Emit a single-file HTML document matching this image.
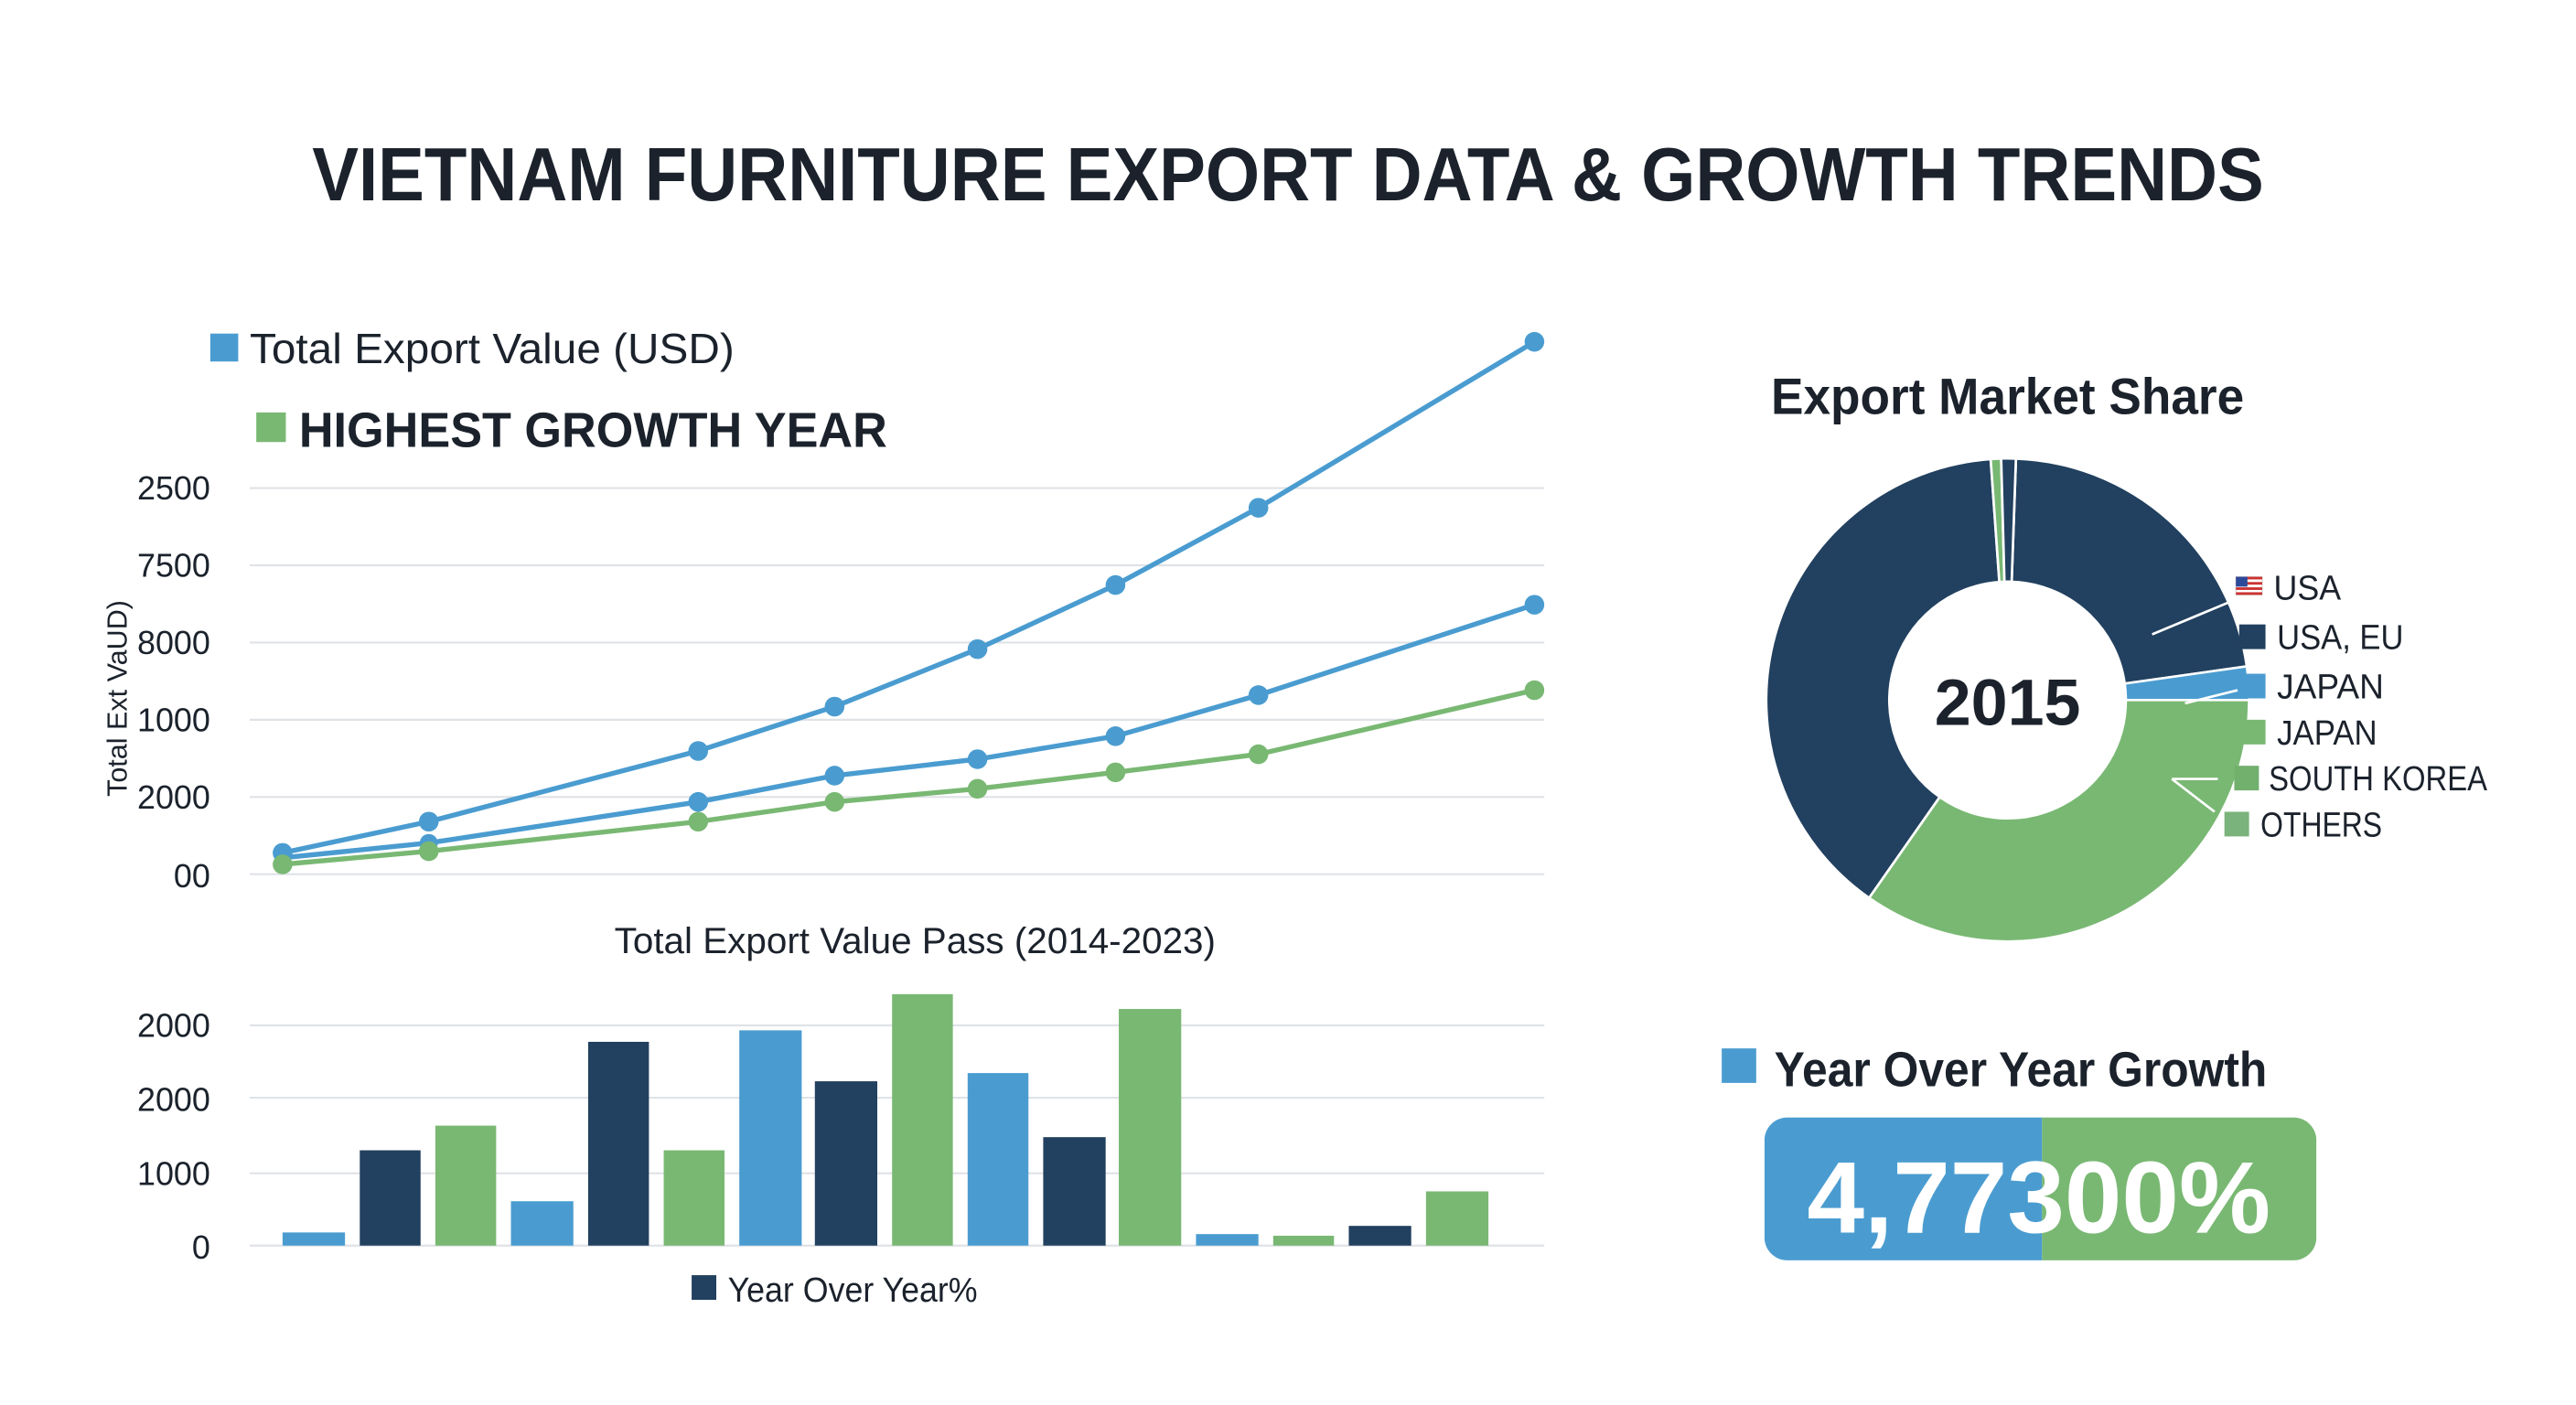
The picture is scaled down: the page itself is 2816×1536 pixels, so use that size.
<!DOCTYPE html>
<html><head><meta charset="utf-8"><style>
html,body{margin:0;padding:0;background:#fff;}
svg{display:block;}
text{font-family:"Liberation Sans",sans-serif;}
</style></head><body>
<svg width="2816" height="1536" viewBox="0 0 1568 855" preserveAspectRatio="none" xmlns="http://www.w3.org/2000/svg">
<rect width="1568" height="855" fill="#fff"/>
<text x="190" y="122" font-size="46" font-weight="bold" fill="#1b222c" textLength="1188" lengthAdjust="spacingAndGlyphs">VIETNAM FURNITURE EXPORT DATA &amp; GROWTH TRENDS</text>

<rect x="128" y="203" width="17" height="17" fill="#4a9cd0"/>
<text x="152" y="221" font-size="26" fill="#1b222c" textLength="295" lengthAdjust="spacingAndGlyphs">Total Export Value (USD)</text>
<rect x="156" y="251" width="18" height="18" fill="#79b873"/>
<text x="182" y="272" font-size="30" font-weight="bold" fill="#1b222c" textLength="358" lengthAdjust="spacingAndGlyphs">HIGHEST GROWTH YEAR</text>

<g stroke="#dfe2e6" stroke-width="1.2">
<line x1="152" y1="297" x2="940" y2="297"/><line x1="152" y1="344" x2="940" y2="344"/>
<line x1="152" y1="391" x2="940" y2="391"/><line x1="152" y1="438" x2="940" y2="438"/>
<line x1="152" y1="485" x2="940" y2="485"/><line x1="152" y1="532" x2="940" y2="532"/>
</g>
<g font-size="20" fill="#1b222c" text-anchor="end">
<text x="128" y="304">2500</text><text x="128" y="351">7500</text><text x="128" y="398">8000</text>
<text x="128" y="445">1000</text><text x="128" y="492">2000</text><text x="128" y="540">00</text>
</g>
<text transform="translate(77,425) rotate(-90)" font-size="17" fill="#1b222c" text-anchor="middle">Total Ext VaUD)</text>

<g fill="none" stroke-width="3" stroke-linejoin="round">
<polyline stroke="#4a9cd0" points="172,519 261,500 425,457 508,430 595,395 679,356 766,309 934,208"/>
<polyline stroke="#4a9cd0" points="172,522 261,513 425,488 508,472 595,462 679,448 766,423 934,368"/>
<polyline stroke="#79b873" points="172,526 261,518 425,500 508,488 595,480 679,470 766,459 934,420"/>
</g>
<g fill="#4a9cd0">
<circle cx="172" cy="519" r="6"/><circle cx="261" cy="500" r="6"/><circle cx="425" cy="457" r="6"/><circle cx="508" cy="430" r="6"/><circle cx="595" cy="395" r="6"/><circle cx="679" cy="356" r="6"/><circle cx="766" cy="309" r="6"/><circle cx="934" cy="208" r="6"/>
<circle cx="261" cy="513" r="5.5"/><circle cx="425" cy="488" r="6"/><circle cx="508" cy="472" r="6"/><circle cx="595" cy="462" r="6"/><circle cx="679" cy="448" r="6"/><circle cx="766" cy="423" r="6"/><circle cx="934" cy="368" r="6"/>
</g>
<g fill="#79b873">
<circle cx="172" cy="526" r="6"/><circle cx="261" cy="518" r="6"/><circle cx="425" cy="500" r="6"/><circle cx="508" cy="488" r="6"/><circle cx="595" cy="480" r="6"/><circle cx="679" cy="470" r="6"/><circle cx="766" cy="459" r="6"/><circle cx="934" cy="420" r="6"/>
</g>

<text x="557" y="580" font-size="22" fill="#1b222c" text-anchor="middle" textLength="366" lengthAdjust="spacingAndGlyphs">Total Export Value Pass (2014-2023)</text>

<g stroke="#dfe2e6" stroke-width="1.2">
<line x1="152" y1="624" x2="940" y2="624"/><line x1="152" y1="668" x2="940" y2="668"/>
<line x1="152" y1="714" x2="940" y2="714"/><line x1="152" y1="758" x2="940" y2="758"/>
</g>
<g font-size="20" fill="#1b222c" text-anchor="end">
<text x="128" y="631">2000</text><text x="128" y="676">2000</text><text x="128" y="721">1000</text><text x="128" y="766">0</text>
</g>
<rect x="172" y="750" width="38" height="8" fill="#4a9cd0"/>
<rect x="219" y="700" width="37" height="58" fill="#22405f"/>
<rect x="265" y="685" width="37" height="73" fill="#79b873"/>
<rect x="311" y="731" width="38" height="27" fill="#4a9cd0"/>
<rect x="358" y="634" width="37" height="124" fill="#22405f"/>
<rect x="404" y="700" width="37" height="58" fill="#79b873"/>
<rect x="450" y="627" width="38" height="131" fill="#4a9cd0"/>
<rect x="496" y="658" width="38" height="100" fill="#22405f"/>
<rect x="543" y="605" width="37" height="153" fill="#79b873"/>
<rect x="589" y="653" width="37" height="105" fill="#4a9cd0"/>
<rect x="635" y="692" width="38" height="66" fill="#22405f"/>
<rect x="681" y="614" width="38" height="144" fill="#79b873"/>
<rect x="728" y="751" width="38" height="7" fill="#4a9cd0"/>
<rect x="775" y="752" width="37" height="6" fill="#79b873"/>
<rect x="821" y="746" width="38" height="12" fill="#22405f"/>
<rect x="868" y="725" width="38" height="33" fill="#79b873"/>
<rect x="421" y="776" width="15" height="15" fill="#22405f"/>
<text x="443" y="792" font-size="21" fill="#1b222c" textLength="152" lengthAdjust="spacingAndGlyphs">Year Over Year%</text>

<text x="1078" y="252" font-size="31" font-weight="bold" fill="#1b222c" textLength="288" lengthAdjust="spacingAndGlyphs">Export Market Share</text>
<g stroke="#fff" stroke-width="1.5">
<path fill="#22405f" d="M1227.1,279.1 A147,147 0 0 1 1367.6,405.5 L1293.3,416 A72,72 0 0 0 1224.5,354 Z"/>
<path fill="#4a9cd0" d="M1367.6,405.5 A147,147 0 0 1 1369,426 L1294,426 A72,72 0 0 0 1293.3,416 Z"/>
<path fill="#79b873" d="M1369,426 A147,147 0 0 1 1137.7,546.4 L1180.7,485 A72,72 0 0 0 1294,426 Z"/>
<path fill="#22405f" d="M1137.7,546.4 A147,147 0 0 1 1211.7,279.4 L1217,354.2 A72,72 0 0 0 1180.7,485 Z"/>
<path fill="#79b873" d="M1211.7,279.4 A147,147 0 0 1 1218.1,279 L1220.1,354 A72,72 0 0 0 1217,354.2 Z"/>
<path fill="#22405f" d="M1218.1,279 A147,147 0 0 1 1227.1,279.1 L1224.5,354 A72,72 0 0 0 1220.1,354 Z"/>
</g>
<g stroke="#fff" stroke-width="1.5" fill="none">
<line x1="1310" y1="386" x2="1358" y2="366"/>
<line x1="1330" y1="428" x2="1362" y2="420"/>
<line x1="1322" y1="474" x2="1350" y2="474"/>
<line x1="1322" y1="474" x2="1348" y2="494"/>
</g>
<text x="1222" y="441" font-size="40" font-weight="bold" fill="#1b222c" text-anchor="middle">2015</text>

<rect x="1361" y="351" width="16" height="11" fill="#fff" stroke="#ccc" stroke-width="0.5"/>
<g fill="#c33"><rect x="1361" y="351" width="16" height="1.6"/><rect x="1361" y="354.2" width="16" height="1.6"/><rect x="1361" y="357.4" width="16" height="1.6"/><rect x="1361" y="360.4" width="16" height="1.6"/></g>
<rect x="1361" y="351" width="7" height="6" fill="#2c4a9a"/>
<g font-size="21" fill="#1b222c">
<text x="1384" y="365" textLength="41" lengthAdjust="spacingAndGlyphs">USA</text>
<rect x="1363" y="380" width="16" height="15" fill="#22405f"/><text x="1386" y="395" textLength="77" lengthAdjust="spacingAndGlyphs">USA, EU</text>
<rect x="1363" y="410" width="16" height="15" fill="#4a9cd0"/><text x="1386" y="425" textLength="65" lengthAdjust="spacingAndGlyphs">JAPAN</text>
<rect x="1363" y="438" width="16" height="15" fill="#79b873"/><text x="1386" y="453" textLength="61" lengthAdjust="spacingAndGlyphs">JAPAN</text>
<rect x="1360" y="466" width="15" height="15" fill="#72b06e"/><text x="1381" y="481" textLength="133" lengthAdjust="spacingAndGlyphs">SOUTH KOREA</text>
<rect x="1354" y="494" width="15" height="15" fill="#7ab37b"/><text x="1376" y="509" textLength="74" lengthAdjust="spacingAndGlyphs">OTHERS</text>
</g>

<rect x="1048" y="638" width="21" height="21" fill="#4a9cd0"/>
<text x="1080" y="661" font-size="30" font-weight="bold" fill="#1b222c" textLength="300" lengthAdjust="spacingAndGlyphs">Year Over Year Growth</text>
<defs><clipPath id="bx"><rect x="1074" y="680" width="336" height="87" rx="14"/></clipPath></defs>
<g clip-path="url(#bx)">
<rect x="1074" y="680" width="169" height="87" fill="#4a9cd0"/>
<rect x="1243" y="680" width="167" height="87" fill="#79b873"/>
</g>
<text x="1100" y="750" font-size="62" font-weight="bold" fill="#fff" textLength="282" lengthAdjust="spacingAndGlyphs">4,77300%</text>
</svg>
</body></html>
